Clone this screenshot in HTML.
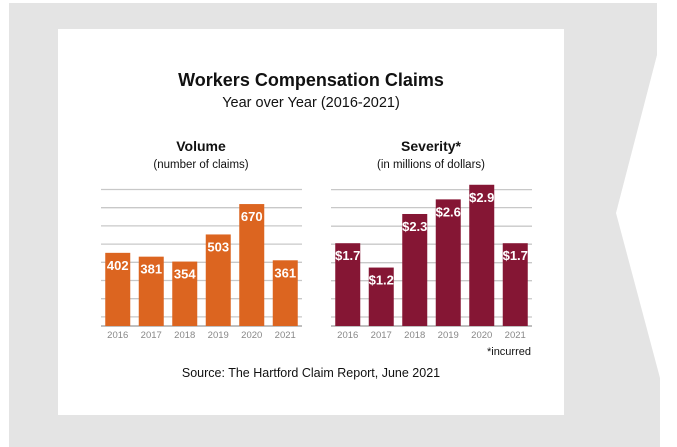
<!DOCTYPE html>
<html><head><meta charset="utf-8"><style>
body{margin:0;width:677px;height:447px;overflow:hidden;background:#fff;font-family:"Liberation Sans",Arial,sans-serif}
svg{display:block}
</style></head><body>
<svg width="677" height="447">
<polygon points="9,3 657,3 657,55 616,213 660,378 660,447 9,447" fill="#e4e4e4"/>
<rect x="58" y="29" width="506" height="386" fill="#fff"/>
<text x="311" y="86" text-anchor="middle" font-size="18" font-weight="bold" fill="#111">Workers Compensation Claims</text>
<text x="311" y="107" text-anchor="middle" font-size="14.5" fill="#111">Year over Year (2016-2021)</text>
<text x="201" y="151" text-anchor="middle" font-size="14" font-weight="bold" fill="#111">Volume</text>
<text x="201" y="168" text-anchor="middle" font-size="11.5" fill="#111">(number of claims)</text>
<text x="431" y="151" text-anchor="middle" font-size="14" font-weight="bold" fill="#111">Severity*</text>
<text x="431" y="168" text-anchor="middle" font-size="11.5" fill="#111">(in millions of dollars)</text>
<text x="531" y="355" text-anchor="end" font-size="11" fill="#111">*incurred</text>
<text x="311" y="377" text-anchor="middle" font-size="12.5" fill="#111">Source: The Hartford Claim Report, June 2021</text>
<g id="c1"></g><g id="c2"></g>
</svg>
<script>
const categories=["2016","2017","2018","2019","2020","2021"];
const volumeValues=[402,381,354,503,670,361];
const volumeLabels=["402","381","354","503","670","361"];
const severityValues=[1.7,1.2,2.3,2.6,2.9,1.7];
const severityLabels=["$1.7","$1.2","$2.3","$2.6","$2.9","$1.7"];
const volumeGrid=[50,150,250,350,450,550,650,750];
const severityGrid=[0.185,0.56,0.93,1.3,1.68,2.05,2.43,2.8];
const NS="http://www.w3.org/2000/svg";
function mk(tag,attrs,parent){const e=document.createElementNS(NS,tag);for(const k in attrs)e.setAttribute(k,attrs[k]);parent.appendChild(e);return e;}
function draw(gid,x0,x1,vals,labels,grid,pxPerUnit,color,prefix){
  const g=document.getElementById(gid);const base=326;
  const y=v=>base-v*pxPerUnit;
  const step=(x1-x0)/categories.length;
  grid.forEach(v=>{const l=mk('line',{x1:x0,x2:x1,y1:y(v),y2:y(v),stroke:'#c8c8c8','stroke-width':1.3},g);
    
    });
  const ax=mk('line',{x1:x0,x2:x1,y1:base,y2:base,stroke:'#aaa','stroke-width':1.5},g);
  
  
  vals.forEach((v,i)=>{
    const cx=x0+step*(i+0.5);
    const r=mk('rect',{x:cx-12.5,y:y(v),width:25,height:base-y(v),fill:color},g);
    
    
    const t=mk('text',{x:cx,y:y(v)+17,'text-anchor':'middle','font-size':13,'font-weight':'bold',fill:'#fff'},g);
    t.textContent=labels[i];
    
    
    const c=mk('text',{x:cx,y:338,'text-anchor':'middle','font-size':9.5,fill:'#888'},g);
    c.textContent=categories[i];
    
    
  });
}
draw('c1',101,302,volumeValues,volumeLabels,volumeGrid,0.182,'#dc6520','volume');
draw('c2',331,532,severityValues,severityLabels,severityGrid,48.7,'#851634','severity');
</script>
</body></html>
